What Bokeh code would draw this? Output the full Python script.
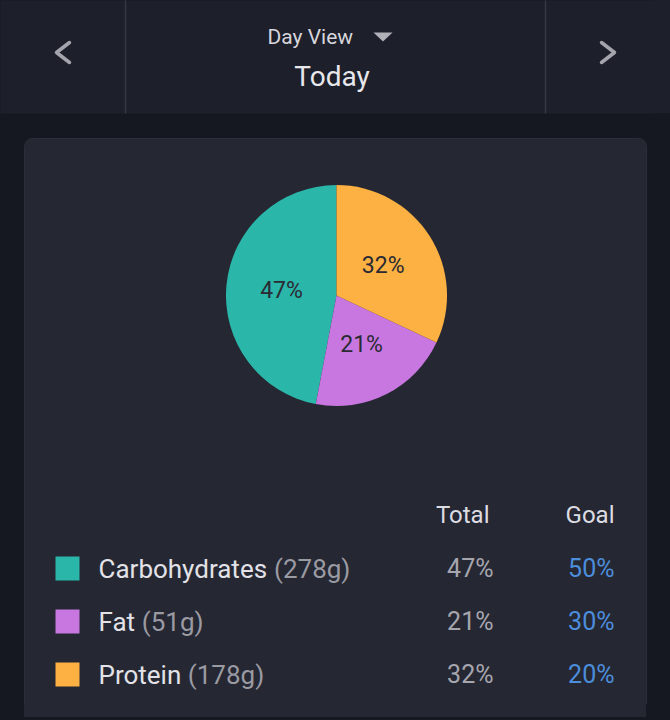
import numpy as np
from bokeh.plotting import figure
from bokeh.models import Range1d, ColumnDataSource, GlobalInlineStyleSheet
from bokeh.core.properties import value
from bokeh.embed import file_html
from bokeh.resources import INLINE

# ---------------- data ----------------
nutrients = ["Carbohydrates", "Fat", "Protein"]
grams = [278, 51, 178]
total_pct = [47, 21, 32]
goal_pct = [50, 30, 20]
colors = ["#2bb6aa", "#c777df", "#fdb142"]
header_title = "Day View"
header_day = "Today"
col_heads = ["Total", "Goal"]

# ---------------- layout helpers ----------------
W, H = 670, 720
PW, PH = 654, 704
FONT = value("Roboto")


def Y(y):
    return H - y


# approximate Roboto advance widths (em)
ADV = {"C": .652, "a": .544, "r": .338, "b": .561, "o": .569, "h": .551, "y": .473,
       "d": .561, "t": .327, "e": .528, "s": .517, "F": .545, "P": .631, "i": .242,
       "n": .552, " ": .248}


def text_w(s, size):
    return sum(ADV.get(c, .55) for c in s) * size


p = figure(width=PW, height=PH, x_range=Range1d(0, PW), y_range=Range1d(Y(PH), Y(0)),
           output_backend="svg", toolbar_location=None, min_border=0,
           background_fill_color="#161821", border_fill_color="#161821")
p.axis.visible = False
p.grid.visible = False
p.outline_line_color = None
p.stylesheets = [GlobalInlineStyleSheet(
    css="body{background:linear-gradient(#252732,#252732) 24px 690px/622px 27px no-repeat,"
        "linear-gradient(#1d1f2a 0 113px,#161821 113px);}")]

# header band
p.quad(left=[-10], right=[W], top=[Y(-10)], bottom=[Y(113)], fill_color="#1d1f2a", line_color=None)
p.segment(x0=[125, 545], x1=[125, 545], y0=[Y(-10)] * 2, y1=[Y(113)] * 2,
          line_color="#343744", line_width=1.5)
# chevrons
p.line(x=[69, 56, 69], y=[Y(42), Y(52), Y(62)], line_color="#a4a4ac", line_width=3.5,
       line_cap="round", line_join="round")
p.line(x=[601, 614, 601], y=[Y(42), Y(52), Y(62)], line_color="#a4a4ac", line_width=3.5,
       line_cap="round", line_join="round")
p.text(x=[267], y=[Y(36)], text=[header_title], text_font=FONT, text_font_size="21px",
       text_color="#d6d6dc", text_baseline="middle", text_align="left")
p.patch(x=[373, 392, 382.5], y=[Y(32), Y(32), Y(41)], fill_color="#b0b0b8", line_color=None)
p.text(x=[331.5], y=[Y(76)], text=[header_day], text_font=FONT, text_font_size="28px",
       text_color="#e8e8ec", text_baseline="middle", text_align="center")

# card
p.quad(left=[24], right=[646], top=[Y(138)], bottom=[Y(730)], fill_color="#252732",
       line_color="#2b2d39", line_width=1, border_radius=8)

# pie
cx, cy, R = 336, 295, 110.5
frac = np.array(total_pct, dtype=float) / sum(total_pct)
cum = np.concatenate([[0], np.cumsum(frac)])
start = np.pi / 2 + 2 * np.pi * cum[:-1]
end = np.pi / 2 + 2 * np.pi * cum[1:]
mid = (start + end) / 2
pie = ColumnDataSource(dict(start=start, end=end, color=colors,
                            lx=cx + 0.5 * R * np.cos(mid), ly=Y(cy) + 0.5 * R * np.sin(mid),
                            lab=[f"{v}%" for v in total_pct]))
p.wedge(x=cx, y=Y(cy), radius=R, start_angle="start", end_angle="end", direction="anticlock",
        fill_color="color", line_color=None, source=pie)
p.text(x="lx", y="ly", text="lab", source=pie, text_font=FONT, text_font_size="23px",
       text_color="#2a2a33", text_align="center", text_baseline="middle")

# table
p.text(x=[489, 614], y=[Y(514)] * 2, text=col_heads, text_font=FONT, text_font_size="24px",
       text_color="#dcdce2", text_align="right", text_baseline="middle")
row_y = [Y(568 + 53 * i) for i in range(len(nutrients))]
name_x = 98
name_size = 26
tbl = ColumnDataSource(dict(
    y=row_y, color=colors, name=nutrients,
    gx=[name_x + text_w(n + " ", name_size) for n in nutrients],
    g=[f"({g}g)" for g in grams],
    tot=[f"{v}%" for v in total_pct],
    goal=[f"{v}%" for v in goal_pct]))
p.rect(x=67, y="y", width=24, height=24, fill_color="color", line_color=None, source=tbl)
p.text(x=name_x, y="y", text="name", source=tbl, text_font=FONT, text_font_size=f"{name_size}px",
       text_color="#e2e2e8", text_baseline="middle", text_align="left")
p.text(x="gx", y="y", text="g", source=tbl, text_font=FONT, text_font_size=f"{name_size}px",
       text_color="#9a9aa3", text_baseline="middle", text_align="left")
p.text(x=493, y="y", text="tot", source=tbl, text_font=FONT, text_font_size="25px",
       text_color="#a6a6ae", text_baseline="middle", text_align="right")
p.text(x=614, y="y", text="goal", source=tbl, text_font=FONT, text_font_size="25px",
       text_color="#4c8ddc", text_baseline="middle", text_align="right")

open("out.html", "w").write(file_html(p, INLINE))
